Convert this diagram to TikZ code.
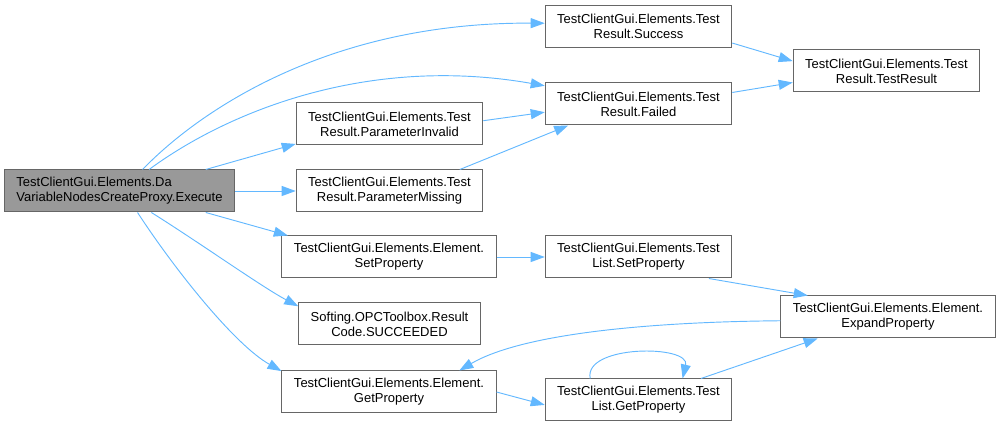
\documentclass[tikz,border=0pt]{standalone}
\usepackage{fontspec}
\setmainfont{Liberation Sans}
\usetikzlibrary{arrows.meta}
\definecolor{edgeblue}{HTML}{63B8FF}
\definecolor{boxgray}{HTML}{666666}
\definecolor{rootgray}{HTML}{999999}

\begin{document}
\begin{tikzpicture}[x=0.75pt,y=-0.75pt,
	fn/.style={draw=boxgray,fill=white,line width=0.75pt,align=center,minimum height=31.5pt,inner xsep=9pt,inner ysep=2pt,font=\fontsize{9.75}{11.25}\selectfont},
	fnroot/.style={fn,fill=rootgray,align=left},
	call/.style={draw=edgeblue,line width=0.7pt,-{Triangle[length=10.5pt,width=7.5pt]}}]
	\useasboundingbox (0,0) rectangle (1000,427);
	\node[fnroot] (exec) at (119.5,191) {TestClientGui.Elements.Da\\VariableNodesCreateProxy.Execute};
	\node[fn] (success) at (638.5,26.5) {TestClientGui.Elements.Test\\Result.Success};
	\node[fn] (testresult) at (886.5,71) {TestClientGui.Elements.Test\\Result.TestResult};
	\node[fn] (failed) at (638.5,104) {TestClientGui.Elements.Test\\Result.Failed};
	\node[fn] (paraminvalid) at (389.5,124) {TestClientGui.Elements.Test\\Result.ParameterInvalid};
	\node[fn] (parammissing) at (389.5,191) {TestClientGui.Elements.Test\\Result.ParameterMissing};
	\node[fn] (setprop) at (389,257) {TestClientGui.Elements.Element.\\SetProperty};
	\node[fn] (softing) at (389.5,324) {Softing.OPCToolbox.Result\\Code.SUCCEEDED};
	\node[fn] (getprop) at (389,392) {TestClientGui.Elements.Element.\\GetProperty};
	\node[fn] (listset) at (638.5,257) {TestClientGui.Elements.Test\\List.SetProperty};
	\node[fn] (listget) at (638.5,400) {TestClientGui.Elements.Test\\List.GetProperty};
	\node[fn] (expand) at (888,317) {TestClientGui.Elements.Element.\\ExpandProperty};

	\draw[call] (exec.43) .. controls (200,110) and (330,22) .. (success.178);
	\draw[call] (exec.36) .. controls (230,110) and (370,55) .. (failed.169);
	\draw[call] (exec.14) -- (paraminvalid.192);
	\draw[call] (exec.east) -- (parammissing.west);
	\draw[call] (exec.-14) -- (setprop.168);
	\draw[call] (exec.-34) .. controls (200,243) and (262,287) .. (softing.169);
	\draw[call] (exec.-50) .. controls (175,270) and (235,345) .. (getprop.169);
	\draw[call] (paraminvalid.2) -- (failed.185);
	\draw[call] (parammissing.17) -- (failed.197);
	\draw[call] (success.-10) -- (testresult.174);
	\draw[call] (failed.7) -- (testresult.187);
	\draw[call] (setprop.east) -- (listset.west);
	\draw[call] (listset.-17) -- (expand.165);
	\draw[call] (expand.182) .. controls (640,322) and (520,335) .. (getprop.17);
	\draw[call] (getprop.east) -- (listget.183);
	\draw[call] (listget.156) .. controls +(-7,-34) and +(8,-34) .. (listget.26);
	\draw[call] (listget.19) -- (expand.197);
\end{tikzpicture}
\end{document}
